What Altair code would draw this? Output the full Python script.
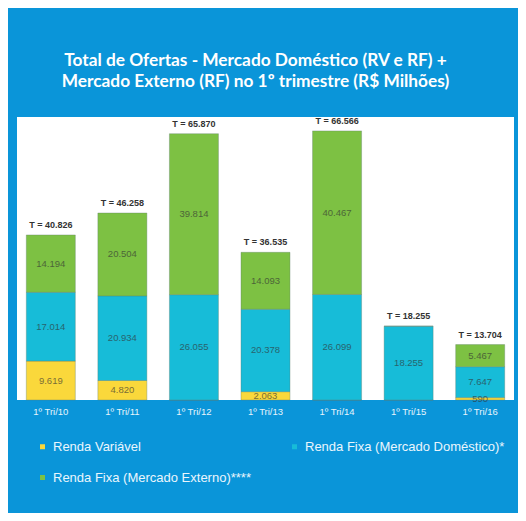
import altair as alt
import pandas as pd

periods = ["1º Tri/10", "1º Tri/11", "1º Tri/12", "1º Tri/13", "1º Tri/14", "1º Tri/15", "1º Tri/16"]
series = ["Renda Variável", "Renda Fixa (Mercado Doméstico)*", "Renda Fixa (Mercado Externo)****"]
renda_variavel = [9619, 4820, 0, 2063, 0, 0, 590]
rf_domestico = [17014, 20934, 26055, 20378, 26099, 18255, 7647]
rf_externo = [14194, 20504, 39814, 14093, 40467, 0, 5467]
totals = [40826, 46258, 65870, 36535, 66566, 18255, 13704]
colors = ["#FAD83B", "#17BCD8", "#7DC143"]


def fmt(v):
    return f"{v:,}".replace(",", ".")


rows = []
for i, p in enumerate(periods):
    for k, (s, vals) in enumerate(zip(series, [renda_variavel, rf_domestico, rf_externo])):
        rows.append({"period": p, "series": s, "order": k, "value": vals[i], "label": fmt(vals[i])})
df = pd.DataFrame(rows)
tot = pd.DataFrame({"period": periods, "total": totals, "tlabel": ["T = " + fmt(t) for t in totals]})

# legend is laid out column-major: order domain so rows read RV, RF Dom / RF Ext
legend_domain = [series[0], series[2], series[1]]
legend_range = [colors[0], colors[2], colors[1]]

xenc = alt.X("period:N", sort=periods, title=None,
             scale=alt.Scale(paddingInner=0.315, paddingOuter=0.13),
             axis=alt.Axis(labelAngle=0, ticks=False, domain=False, labelColor="#E6F4FC",
                           labelFontSize=9.5, labelFont="Liberation Sans", labelPadding=6))
yscale = alt.Scale(domain=[0, 70000], nice=False)

base = alt.Chart(df)
bars = base.mark_bar(stroke="#5E7F6E", strokeWidth=0.6, strokeOpacity=0.6).encode(
    x=xenc,
    y=alt.Y("value:Q", stack="zero", scale=yscale, axis=None),
    order=alt.Order("order:Q"),
    color=alt.Color("series:N",
                    scale=alt.Scale(domain=legend_domain, range=legend_range),
                    legend=alt.Legend(title=None, orient="none", legendX=19, legendY=323,
                                      columns=2, columnPadding=37, rowPadding=17,
                                      symbolType="square", symbolSize=25, symbolStrokeWidth=0,
                                      labelColor="#EAF6FD", labelFontSize=13,
                                      labelFont="Liberation Sans", labelOffset=4,
                                      labelLimit=400, padding=0)),
)

seg_labels = base.transform_filter("datum.value > 0").transform_stack(
    stack="value", groupby=["period"], sort=[alt.SortField("order", order="ascending")],
    as_=["y0", "y1"]
).transform_calculate(mid="(datum.y0 + datum.y1) / 2").mark_text(
    fontSize=9.5, font="Liberation Sans", color="#333333", opacity=0.65, baseline="middle"
).encode(
    x=alt.X("period:N", sort=periods),
    y=alt.Y("mid:Q", scale=yscale),
    text="label:N",
)

tot_labels = alt.Chart(tot).mark_text(
    fontSize=9, font="Liberation Sans", fontWeight="bold", color="#333333",
    baseline="middle", dy=-10
).encode(
    x=alt.X("period:N", sort=periods),
    y=alt.Y("total:Q", scale=yscale),
    text="tlabel:N",
)

chart = alt.layer(bars, seg_labels, tot_labels).properties(
    width=497, height=283,
    title=alt.TitleParams(
        text=["Total de Ofertas - Mercado Doméstico (RV e RF) +",
              "Mercado Externo (RF) no 1º trimestre (R$ Milhões)"],
        color="white", font="Lato", fontSize=17.3, fontWeight="bold",
        anchor="middle", offset=27, lineHeight=21, dx=-10,
    ),
    background="#0A95D9",
    padding={"left": 9, "top": 109, "right": 4, "bottom": 113},
    autosize=alt.AutoSizeParams(type="none"),
).configure_view(fill="white", stroke=None)

chart.save("out.html", embed_options={"renderer": "svg", "actions": False})
